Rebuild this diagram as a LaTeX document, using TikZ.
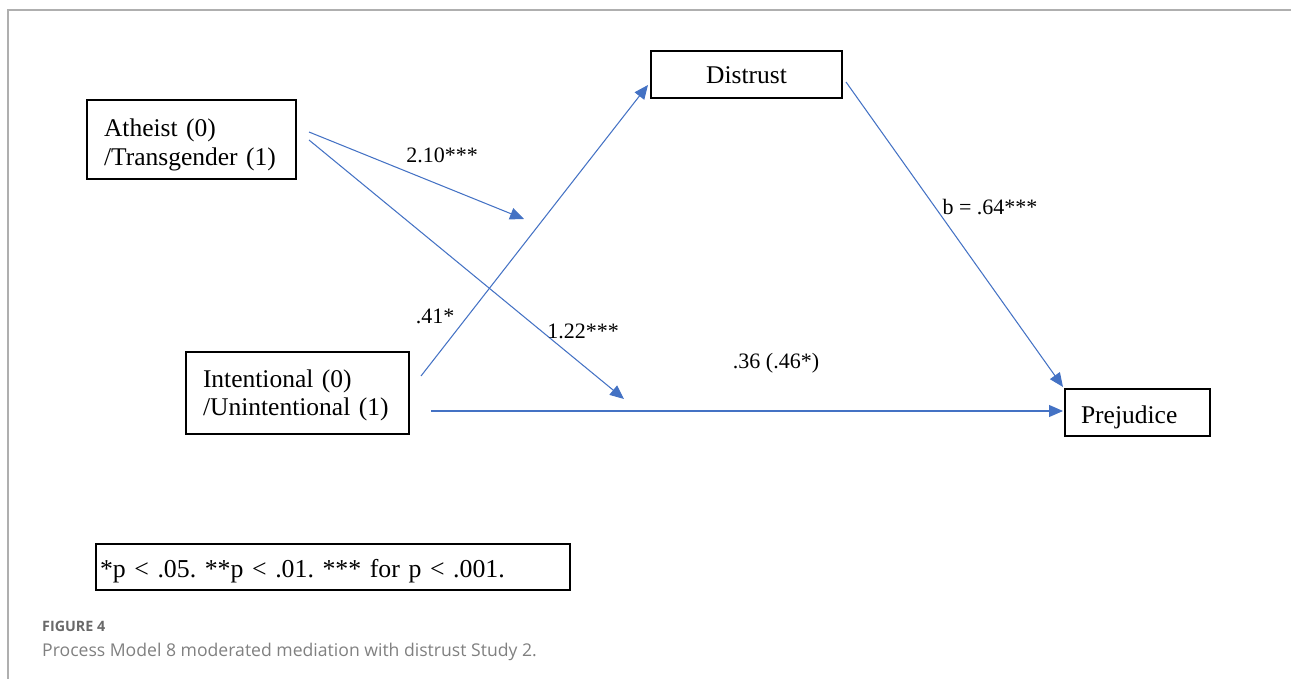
\documentclass[tikz,border=0pt]{standalone}
\usepackage{fontspec}
\setmainfont{Liberation Serif}
\newfontfamily\capfont{Open Sans}
\usetikzlibrary{arrows.meta,calc}
\definecolor{pathblue}{RGB}{68,114,196}
\definecolor{framegray}{RGB}{175,175,175}
\definecolor{capgray}{RGB}{105,105,105}
\tikzset{
  x=1pt, y=-1pt,
  varbox/.style={draw=black, line width=2pt, inner sep=0pt,
    font=\fontsize{25.5}{28.5}\selectfont},
  leftbox/.style={varbox, align=left},
  coef/.style={inner sep=0pt, font=\fontsize{22}{24}\selectfont},
  path/.style={draw=pathblue, line width=1.05pt,
    -{Triangle[length=14pt,width=12pt]}},
}
\begin{document}
\begin{tikzpicture}
\useasboundingbox (0,0) rectangle (1291,679);
% page frame
\draw[framegray, line width=2pt] (7.5,679) -- (7.5,10.5) -- (1291,10.5);

% variables
\node[leftbox, text width=209pt, minimum height=79pt, text height=29pt, text depth=34pt] (ath) at (191.5,139.5)
  {\hspace*{17pt}Atheist (0)\\\hspace*{17pt}/Transgender (1)};
\node[leftbox, text width=223pt, minimum height=82pt, text height=22pt, text depth=34pt] (int) at (297.5,393)
  {\hspace*{17pt}Intentional (0)\\\hspace*{17pt}/Unintentional (1)};
\node[varbox, minimum width=191pt, minimum height=47pt, text height=19pt, text depth=0pt] (dis) at (746.5,74.5) {Distrust};
\node[varbox, minimum height=47pt, text width=145pt, align=left, text height=21pt, text depth=0pt] (pre) at (1137.5,412.5) {\hspace*{16pt}Prejudice};

% interaction targets on the a- and c'-paths
\coordinate (modA) at (524,219);
\coordinate (modC) at (624,399);

% paths
\draw[path] ($(ath.east)+(12,-7.5)$) -- (modA);
\draw[path] ($(ath.east)+(12,0.5)$) -- (modC);
\draw[path] ($(int.east)+(11,-17)$) -- ($(dis.west)+(-2,10.5)$);
\draw[path] ($(dis.east)+(3,7.5)$) -- ($(pre.north west)+(-1,-1)$);
\draw[path] ($(int.east)+(21,18)$) -- ($(pre.west)+(-1,-1.5)$);

% coefficients
\node[coef] (k1) at (442,155) {2.10***};
\node[coef] (k2) at (583,331) {1.22***};
\node[coef] (k3) at (435,316) {.41*};
\node[coef] (k4) at (990,207) {b = .64***};
\node[coef] (k5) at (776,363) {.36 (.46*)};

% significance legend
\node[varbox, minimum height=46pt, text width=474pt, align=left, text height=20pt, text depth=0pt,
  font=\fontsize{25.8}{30}\selectfont\frenchspacing] (leg) at (333,567) {\hspace*{4pt}*p < .05. **p < .01. *** for p < .001.};

% caption
\node[anchor=base west, inner sep=0pt, text=capgray, font=\capfont\bfseries\fontsize{14.3}{16}\selectfont] (fig) at (42,631) {FIGURE 4};
\node[anchor=base west, inner sep=0pt, text=capgray!85, font=\capfont\fontsize{17.6}{20}\selectfont] (cap) at (42,656)
  {Process Model 8 moderated mediation with distrust Study 2.};
\end{tikzpicture}
\end{document}
